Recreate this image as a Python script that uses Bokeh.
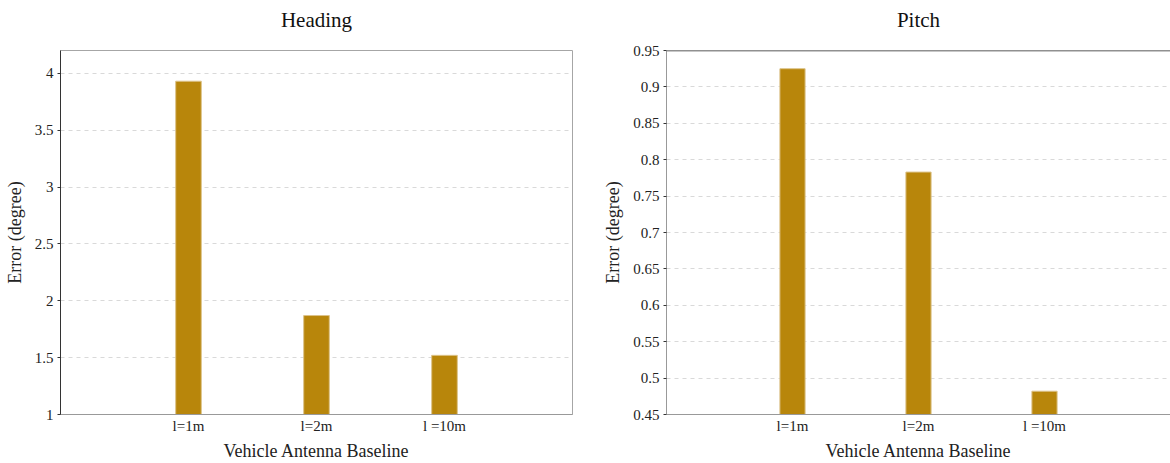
from bokeh.plotting import figure
from bokeh.layouts import row
from bokeh.models import FixedTicker, Range1d, Span, ColumnDataSource, Title
from bokeh.embed import file_html
from bokeh.resources import INLINE

categories = ["l=1m", "l=2m", "l =10m"]
heading_err = [3.93, 1.87, 1.52]
pitch_err = [0.925, 0.783, 0.482]
heading_ticks = [1, 1.5, 2, 2.5, 3, 3.5, 4]
pitch_ticks = [0.45, 0.5, 0.55, 0.6, 0.65, 0.7, 0.75, 0.8, 0.85, 0.9, 0.95]

FONT = "Liberation Serif"
BAR = "#B8860B"


def fmt(v):
    s = ("%.2f" % v).rstrip("0").rstrip(".")
    return s


def make(title, vals, ticks, y0, y1, width, bl, br, left_dark):
    p = figure(width=width, height=463, output_backend="svg", toolbar_location=None,
               x_range=Range1d(0, 4), y_range=Range1d(y0, y1),
               min_border_left=bl, min_border_right=br, min_border_top=0,
               min_border_bottom=46)
    xs = list(range(1, len(vals) + 1))
    src = ColumnDataSource(dict(x=xs, top=vals))
    p.vbar(x="x", top="top", bottom=y0, width=0.2, source=src, fill_color=BAR,
           line_color="#dcc38a", line_width=1)
    p.add_layout(Title(text="\u00a0", text_font_size="14px", standoff=1), "above")
    p.add_layout(Title(text=title, align="center", text_font=FONT, text_font_size="21px",
                       text_font_style="normal", text_color="#111111", standoff=0), "above")
    p.add_layout(Title(text="\u00a0", text_font_size="3px", standoff=0), "above")
    p.xaxis.ticker = FixedTicker(ticks=xs)
    p.xaxis.major_label_overrides = {x: c for x, c in zip(xs, categories)}
    p.yaxis.ticker = FixedTicker(ticks=ticks)
    p.yaxis.major_label_overrides = {t: fmt(t) for t in ticks}
    p.xaxis.axis_label = "Vehicle Antenna Baseline"
    p.yaxis.axis_label = "Error (degree)"
    for ax in (p.xaxis, p.yaxis):
        ax.axis_label_text_font = FONT
        ax.axis_label_text_font_size = "18px"
        ax.axis_label_text_font_style = "normal"
        ax.axis_label_text_color = "#222222"
        ax.major_label_text_font = FONT
        ax.major_label_text_font_size = "15px"
        ax.major_label_text_color = "#222222"
        ax.minor_tick_line_color = None
        ax.minor_tick_out = 0
        ax.minor_tick_in = 0
    p.xaxis.major_tick_line_color = None
    p.xaxis.major_tick_out = 0
    p.xaxis.major_tick_in = 0
    p.xaxis.axis_line_color = "#999999"
    p.xaxis.major_label_standoff = 3
    p.xaxis.axis_label_standoff = 4
    p.yaxis.major_tick_in = 0
    p.yaxis.major_tick_out = 3
    p.yaxis.major_label_standoff = 4
    p.yaxis.axis_label_standoff = 7
    p.yaxis.axis_line_color = "#333333" if left_dark else "#999999"
    p.yaxis.major_tick_line_color = "#333333"
    p.xgrid.grid_line_color = None
    p.ygrid.grid_line_color = "#d9d9d9"
    p.ygrid.grid_line_dash = "4 4"
    p.background_fill_color = "white"
    p.border_fill_color = "white"
    return p


left = make("Heading", heading_err, heading_ticks, 1, 4.2, 600, 60, 28, True)
left.outline_line_color = "#a6a6a6"

right = make("Pitch", pitch_err, pitch_ticks, 0.45, 0.95, 570, 64, 0, False)
right.outline_line_color = None
right.add_layout(Span(location=0.95, dimension="width", line_color="#222222", line_width=1.5))

p = row(left, right)
open("out.html", "w").write(file_html(p, INLINE))
